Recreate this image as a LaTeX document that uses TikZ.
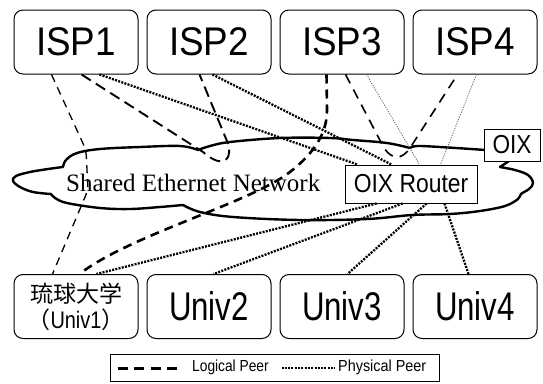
\documentclass[tikz,border=0pt]{standalone}
\usepackage{fontspec}
\usepackage{graphicx}
\setmainfont{Liberation Sans}
\newfontfamily\serifnet{Liberation Serif}
\newfontfamily\jpfont{Noto Sans CJK JP}
\newcommand\fsz[1]{\fontsize{#1}{#1}\selectfont}
\newcommand\hsq[2]{\scalebox{#1}[1]{#2}}

\tikzset{
  box/.style={draw, line width=1pt, rounded corners=9pt, minimum width=124pt,
    minimum height=64pt, inner sep=0pt, fill=white},
  rect/.style={draw, line width=1pt, fill=white, inner sep=0pt},
  logical/.style={line width=1.3pt, dash pattern=on 8pt off 6pt},
  logicalmid/.style={line width=1.9pt, dash pattern=on 11pt off 6pt},
  logicalthick/.style={line width=2.6pt, dash pattern=on 9pt off 6pt},
  physical/.style={line width=2.3pt, dash pattern=on 2pt off 1.3pt},
  physthin/.style={line width=0.8pt, black!60, dash pattern=on 1.2pt off 1.3pt},
  cloudline/.style={line width=2.4pt, line join=round, fill=white},
}

\begin{document}
\begin{tikzpicture}[x=1pt, y=-1pt]
\useasboundingbox (0,0) rectangle (543,383);

% shared network cloud
\draw[cloudline]
  plot[smooth, tension=0.6] coordinates {(51,194)(33,192)(20,187)(13,181)(16,176)(30,172)(48,169)(63,167)}
  -- plot[smooth, tension=0.6] coordinates {(63,167)(66,160)(77,153)(100,149)(140,147)(180,146)(198,150)}
  -- plot[smooth, tension=0.6] coordinates {(198,150)(210,146)(230,142)(280,138)(330,138)(353,140)(387,143)(410,148)}
  -- plot[smooth, tension=0.6] coordinates {(410,148)(417,146)(440,147)(486,150)}
  -- (500,152) -- (509,161) -- (500,167)
  -- plot[smooth, tension=0.6] coordinates {(500,167)(515,170)(528,175)(533,183)(529,189)(521,194)(518,199)(505,206)(480,211)(450,214)(412,215)(367,219)(300,220)(233,217)(200,212)(183,205)}
  -- plot[smooth, tension=0.6] coordinates {(183,205)(160,207)(130,209)(100,208)(67,203)(55,198)(51,194)}
  -- cycle;
\node[anchor=base west, inner sep=0pt] (net) at (66,191) {\serifnet\fsz{25}Shared Ethernet Network};

% ISPs
\node[box] (isp1) at (76,42)  {\fsz{40}\hsq{0.92}{ISP1}};
\node[box] (isp2) at (209,42) {\fsz{40}\hsq{0.92}{ISP2}};
\node[box] (isp3) at (342,42) {\fsz{40}\hsq{0.92}{ISP3}};
\node[box] (isp4) at (475,42) {\fsz{40}\hsq{0.92}{ISP4}};

% universities
\node[box, align=center, font=\jpfont\fontsize{23}{26}\selectfont] (u1) at (76,306.5)
  {琉球大学\\（\hsq{0.83}{\rmfamily\fsz{24}Univ1}）};
\node[box] (u2) at (209,306.5) {\fsz{40}\hsq{0.78}{Univ2}};
\node[box] (u3) at (342,306.5) {\fsz{40}\hsq{0.78}{Univ3}};
\node[box] (u4) at (475,306.5) {\fsz{40}\hsq{0.78}{Univ4}};

% exchange
\node[rect, minimum width=132pt, minimum height=38pt] (oixr) at (411,184) {\fsz{26}\hsq{0.88}{OIX Router}};
\node[rect, minimum width=56pt, minimum height=32pt] (oix) at (512,145) {\fsz{26}\hsq{0.87}{OIX}};

% logical peers
\draw[logical, rounded corners=6pt] ([xshift=38pt]isp1.south west) -- (86,150) -- (88,190) -- ([xshift=39pt]u1.north west);
\draw[logicalmid] ([xshift=68pt]isp1.south west) -- (203,152)
  .. controls (218,165) and (231,166) .. (229,146) -- ([xshift=53pt]isp2.south west);
\draw[logicalthick] ([xshift=47pt]isp3.south west) -- (327,110)
  .. controls (327,130) and (318,150) .. (290,172)
  .. controls (250,203) and (130,235) .. ([xshift=66pt]u1.north west);
\draw[logical, line width=1.6pt, dash pattern=on 10pt off 7pt] ([xshift=66pt]isp3.south west) -- (384,148)
  .. controls (392,160) and (402,160) .. (410,148) -- ([xshift=45pt]isp4.south west);

% physical peers
\draw[physical] ([xshift=86pt]isp1.south west) -- ([xshift=13pt]oixr.north west);
\draw[physical] ([xshift=66pt]isp2.south west) -- ([xshift=47pt]oixr.north west);
\draw[physthin] ([xshift=87pt]isp3.south west) -- ([xshift=75pt]oixr.north west);
\draw[physthin] ([xshift=64pt]isp4.south west) -- ([xshift=96pt]oixr.north west);
\draw[physical] ([xshift=32pt]oixr.south west) -- ([xshift=83pt]u1.north west);
\draw[physical] ([xshift=58pt]oixr.south west) -- ([xshift=67pt]u2.north west);
\draw[physical] ([xshift=82pt]oixr.south west) -- ([xshift=68pt]u3.north west);
\draw[physical] ([xshift=100pt]oixr.south west) -- ([xshift=56pt]u4.north west);

% legend
\node[rect, minimum width=329pt, minimum height=27pt] (leg) at (274.5,367.5) {};
\draw[line width=3pt, dash pattern=on 10pt off 6.5pt] ([xshift=8pt,yshift=-0.5pt]leg.west) -- ([xshift=67pt,yshift=-0.5pt]leg.west);
\node[anchor=base west, inner sep=0pt] (lgl) at (192,371) {\fsz{16}\hsq{0.86}{Logical Peer}};
\draw[physical] ([xshift=172pt,yshift=-0.5pt]leg.west) -- ([xshift=225pt,yshift=-0.5pt]leg.west);
\node[anchor=base west, inner sep=0pt] (lgp) at (338,371) {\fsz{16}\hsq{0.9}{Physical Peer}};
\end{tikzpicture}
\end{document}
